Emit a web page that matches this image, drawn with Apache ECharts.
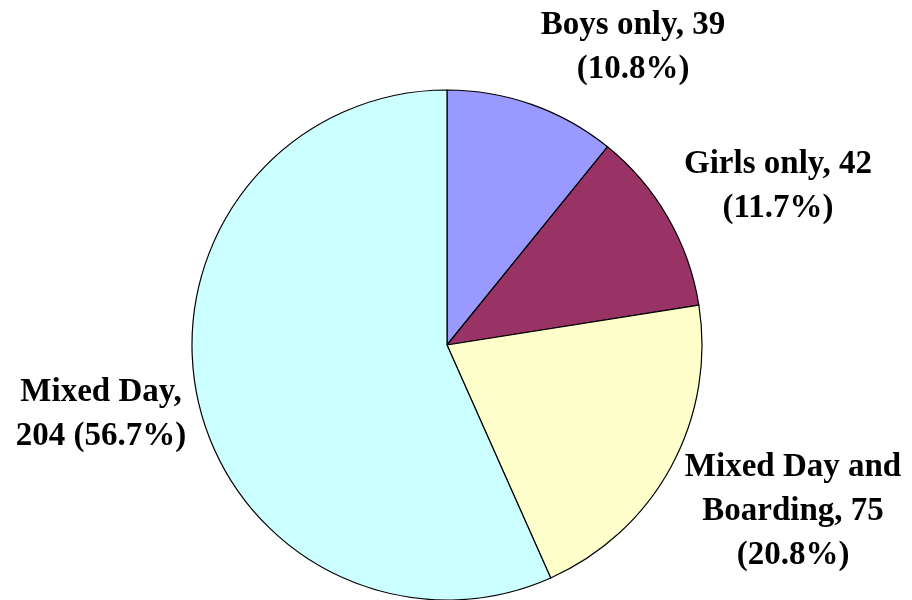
<!DOCTYPE html>
<html>
<head>
<meta charset="utf-8">
<script src="https://cdn.jsdelivr.net/npm/echarts@6/dist/echarts.min.js"></script>
<style>
  html, body { margin: 0; padding: 0; background: #fff; }
  #main { width: 912px; height: 600px; }
</style>
</head>
<body>
<div id="main"></div>
<script>
  // data
  var categories = ['Boys only', 'Girls only', 'Mixed Day and Boarding', 'Mixed Day'];
  var values = [39, 42, 75, 204];
  var percents = ['10.8%', '11.7%', '20.8%', '56.7%'];
  var labelTexts = [
    'Boys only, 39\n(10.8%)',
    'Girls only, 42\n(11.7%)',
    'Mixed Day and\nBoarding, 75\n(20.8%)',
    'Mixed Day,\n204 (56.7%)'
  ];

  var colors = ['#9999FF', '#993366', '#FFFFCC', '#CCFFFF'];
  // where each label block sits (centre)
  var labelSpots = [[633, 47], [778, 186], [793, 511], [101, 414]];

  var myChart = echarts.init(document.getElementById('main'));

  var option = {
    animation: false,
    series: [{
      type: 'pie',
      center: [447, 345],
      radius: 255,
      startAngle: 90,
      clockwise: true,
      silent: true,
      itemStyle: {
        borderColor: '#000',
        borderWidth: 1.2
      },
      label: {
        show: true,
        position: 'outside',
        overflow: 'none',
        fontFamily: '"Liberation Serif", "Times New Roman", serif',
        fontWeight: 'bold',
        fontSize: 33,
        lineHeight: 44,
        color: '#000',
        align: 'center',
        formatter: function (p) { return labelTexts[p.dataIndex]; }
      },
      labelLine: { show: false },
      labelLayout: function (p) {
        var s = labelSpots[p.dataIndex];
        return { x: s[0], y: s[1], align: 'center', verticalAlign: 'middle' };
      },
      data: categories.map(function (c, i) {
        return { name: c, value: values[i], itemStyle: { color: colors[i] } };
      })
    }]
  };

  myChart.setOption(option);
</script>
</body>
</html>
